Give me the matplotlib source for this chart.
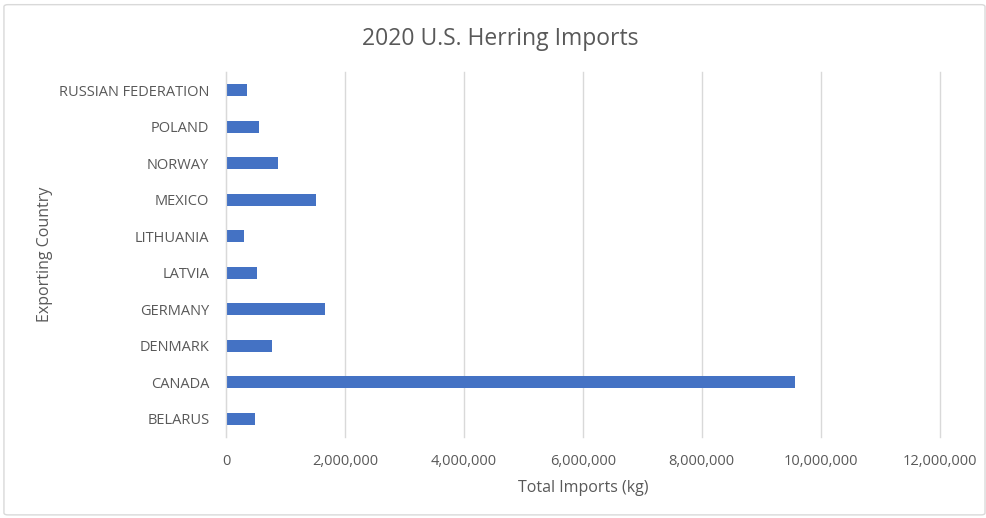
import matplotlib.pyplot as plt
from matplotlib.patches import FancyBboxPatch
from matplotlib.ticker import FuncFormatter

countries = ['BELARUS', 'CANADA', 'DENMARK', 'GERMANY', 'LATVIA',
             'LITHUANIA', 'MEXICO', 'NORWAY', 'POLAND', 'RUSSIAN FEDERATION']
imports_kg = [490000, 9560000, 770000, 1660000, 520000,
              300000, 1510000, 870000, 550000, 350000]
xticks = [0, 2000000, 4000000, 6000000, 8000000, 10000000, 12000000]

plt.rcParams['font.family'] = ['Open Sans', 'DejaVu Sans']
grey = '#595959'

fig = plt.figure(figsize=(9.87, 5.18), dpi=100)
ax = fig.add_axes([0.229, 0.156, 0.723, 0.705])

ax.barh(countries, imports_kg, height=0.33, color='#4472C4')

ax.set_xlim(0, 12000000)
ax.set_ylim(-0.5, len(countries) - 0.5)
ax.set_xticks(xticks)
ax.xaxis.set_major_formatter(FuncFormatter(lambda v, p: f'{int(v):,}'))
ax.grid(axis='x', color='#d9d9d9', linewidth=1)
for gl in ax.get_xgridlines():
    gl.set_clip_on(False)
ax.set_axisbelow(True)
for s in ['top', 'right', 'bottom']:
    ax.spines[s].set_visible(False)
ax.spines['left'].set_color('#d9d9d9')
ax.tick_params(axis='both', length=0, colors=grey)
ax.tick_params(axis='x', pad=12, labelsize=10.5)
ax.tick_params(axis='y', pad=12, labelsize=10.5)

ax.set_xlabel('Total Imports (kg)', color=grey, fontsize=11.5, labelpad=8)
ax.set_ylabel('Exporting Country', color=grey, fontsize=11.5, labelpad=4)
fig.text(0.507, 0.925, '2020 U.S. Herring Imports', ha='center', va='center',
         fontsize=16.5, color=grey)

# light frame around the chart area
fig.patches.append(FancyBboxPatch((0.004, 0.006), 0.994, 0.985,
                                  boxstyle='round,pad=0,rounding_size=0.004',
                                  transform=fig.transFigure, fill=False,
                                  edgecolor='#d9d9d9', linewidth=1))

fig.savefig('out.png', dpi=100)
